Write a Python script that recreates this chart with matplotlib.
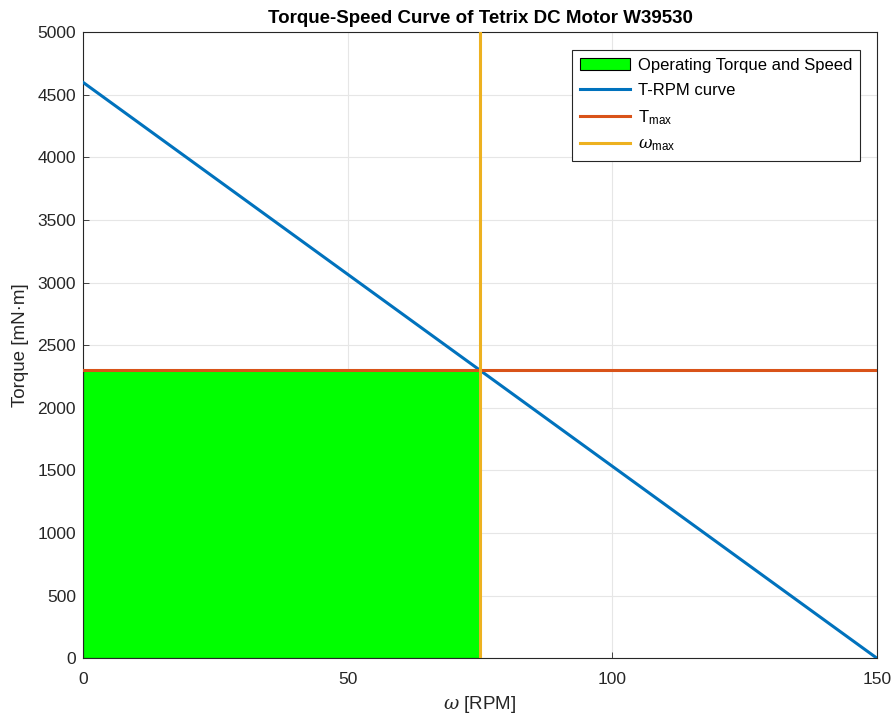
import matplotlib
matplotlib.use("Agg")
import matplotlib.pyplot as plt
import numpy as np

# data
rpm_curve = [0, 150]
torque_curve = [4600, 0]
t_max = 2300
w_max = 75
x_ticks = [0, 50, 100, 150]
y_ticks = list(range(0, 5001, 500))

plt.rcParams["font.family"] = ["Liberation Sans", "DejaVu Sans"]
plt.rcParams["mathtext.fontset"] = "custom"
plt.rcParams["mathtext.rm"] = "Liberation Sans"
plt.rcParams["mathtext.sf"] = "Liberation Sans"
plt.rcParams["mathtext.it"] = "DejaVu Serif:italic"

fig = plt.figure(figsize=(8.93, 7.17), dpi=100)
ax = fig.add_axes([0.093, 0.082, 0.889, 0.873])

ax.fill_between([0, w_max], 0, t_max, facecolor="#00FF00", edgecolor="black",
                linewidth=0.8, label="Operating Torque and Speed", zorder=2)
ax.plot(rpm_curve, torque_curve, color="#0072BD", lw=2.2, label="T-RPM curve", zorder=3)
ax.plot([0, 150], [t_max, t_max], color="#D95319", lw=2.2, label=r"T$_{\mathsf{max}}$", zorder=4)
ax.plot([w_max, w_max], [0, 5000], color="#EDB120", lw=2.2,
        label=r"$\omega_{\mathsf{max}}$", zorder=5)

ax.set_xlim(0, 150)
ax.set_ylim(0, 5000)
ax.set_xticks(x_ticks)
ax.set_yticks(y_ticks)
ax.grid(True, color="#E6E6E6", linewidth=0.8, zorder=0)
ax.set_axisbelow(True)
for s in ax.spines.values():
    s.set_color("#262626")
    s.set_linewidth(0.8)
ax.tick_params(direction="in", length=4, width=0.6, labelsize=12.5, colors="#262626")
ax.tick_params(axis="x", pad=10)
ax.tick_params(axis="y", pad=5)

ax.set_xlabel(r"$\omega$ [RPM]", fontsize=13.5, color="#262626", labelpad=5)
ax.set_ylabel("Torque [mN·m]", fontsize=13.5, color="#262626", labelpad=6)
ax.set_title("Torque-Speed Curve of Tetrix DC Motor W39530", fontsize=13.5,
             fontweight="bold", pad=7)

leg = ax.legend(loc="upper right", bbox_to_anchor=(0.9786, 0.971), borderaxespad=0,
                fontsize=12, fancybox=False, framealpha=1, edgecolor="#262626",
                handlelength=3.0, borderpad=0.45, labelspacing=0.6, handletextpad=0.5)
leg.get_frame().set_linewidth(0.8)

fig.savefig("out.png", dpi=100)
